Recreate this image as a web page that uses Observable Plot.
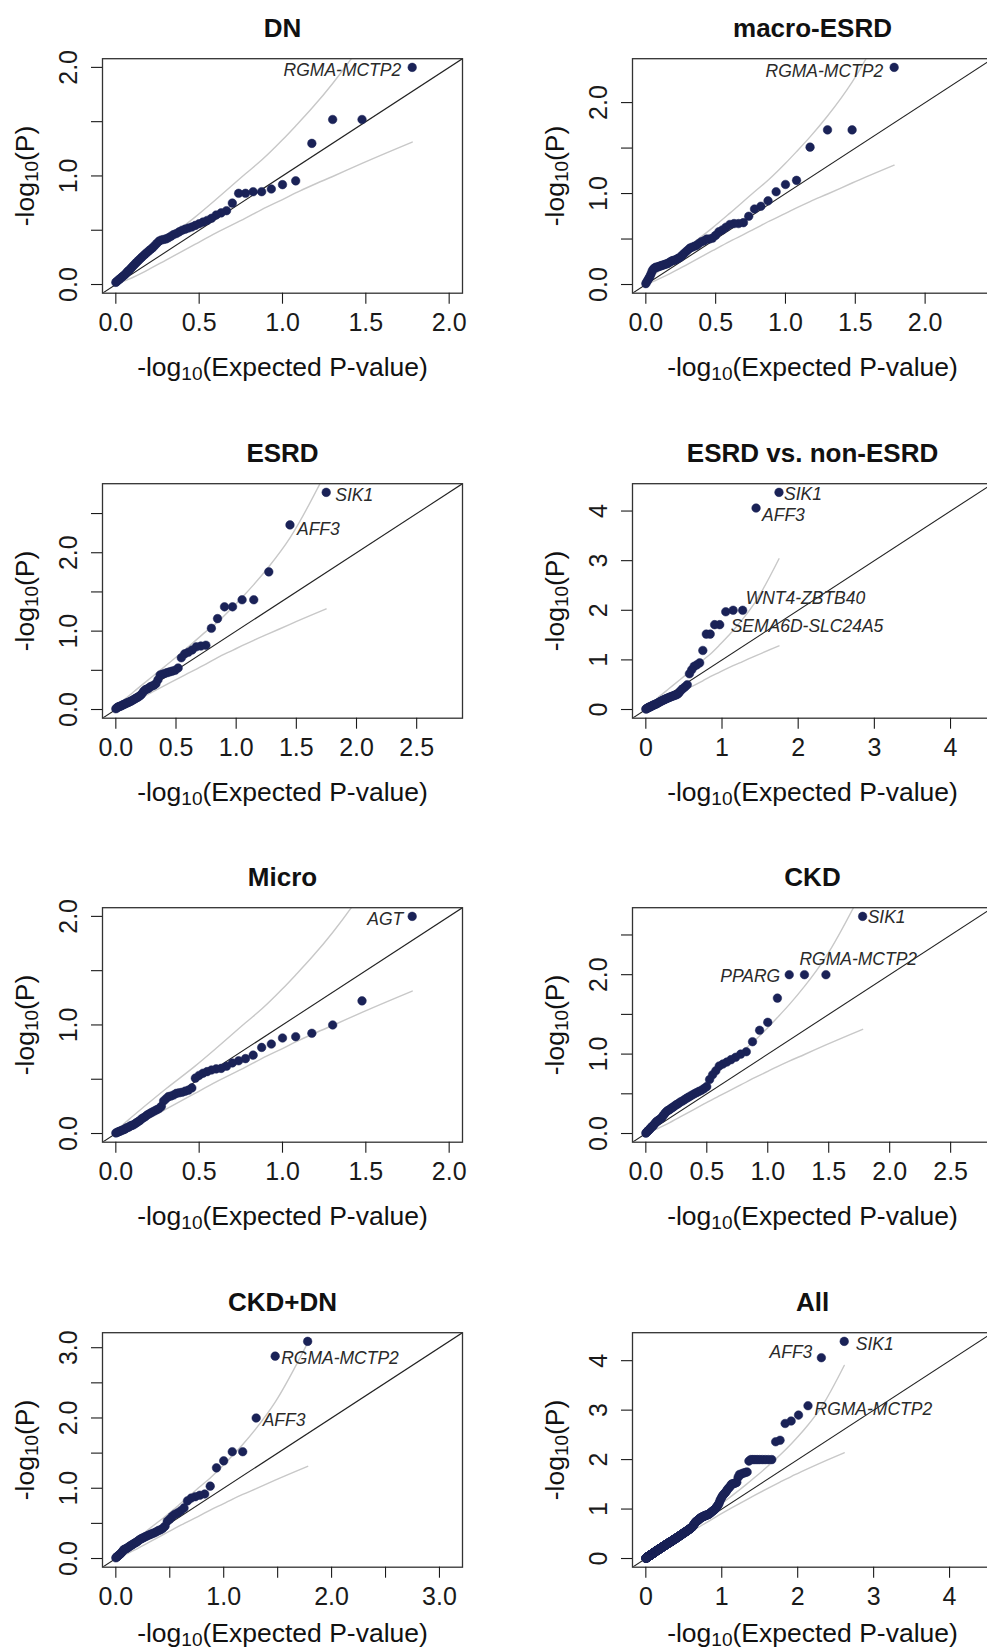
<!DOCTYPE html>
<html>
<head>
<meta charset="utf-8">
<script src="https://cdn.jsdelivr.net/npm/d3@7"></script>
<script src="https://cdn.jsdelivr.net/npm/@observablehq/plot@0.6"></script>
<style>
  html, body { margin: 0; padding: 0; background: #fff; }
  #grid { position: relative; width: 987px; height: 1652px; overflow: hidden; }
  .cell { position: absolute; width: 530px; height: 425px; }
  .cell svg { max-width: none !important; width: 530px; height: 425px; }
</style>
</head>
<body>
<div id="grid"></div>
<script>
// Observed -log10(P) per analysis, sorted from the strongest signal (rank 1) down.
const obsDN = [2.0, 1.52, 1.52, 1.30, 0.955, 0.92, 0.88, 0.855, 0.855, 0.84,
  0.84, 0.75, 0.68, 0.66, 0.64, 0.61, 0.59, 0.575, 0.56, 0.545,
  0.53, 0.52, 0.51, 0.50, 0.485, 0.47, 0.46, 0.445, 0.43, 0.42,
  0.415, 0.41, 0.40, 0.38, 0.36, 0.34, 0.325, 0.31, 0.295, 0.28,
  0.265, 0.25, 0.235, 0.22, 0.205, 0.19, 0.175, 0.16, 0.145, 0.13,
  0.12, 0.105, 0.09, 0.08, 0.07, 0.06, 0.05, 0.04, 0.03, 0.02];

const obsMacroESRD = [2.387, 1.70, 1.70, 1.51, 1.145, 1.10, 1.02, 0.92, 0.86, 0.83,
  0.75, 0.68, 0.67, 0.67, 0.66, 0.63, 0.60, 0.58, 0.54, 0.51,
  0.50, 0.50, 0.48, 0.47, 0.45, 0.43, 0.42, 0.41, 0.40, 0.38,
  0.36, 0.34, 0.32, 0.30, 0.29, 0.28, 0.27, 0.265, 0.26, 0.25,
  0.24, 0.23, 0.225, 0.22, 0.215, 0.21, 0.205, 0.20, 0.195, 0.19,
  0.19, 0.18, 0.17, 0.15, 0.12, 0.09, 0.07, 0.05, 0.03, 0.01];

const obsESRD = [2.77, 2.355, 1.756, 1.40, 1.40, 1.31, 1.31, 1.16, 1.036, 0.82,
  0.81, 0.80, 0.76, 0.73, 0.71, 0.66, 0.53, 0.50, 0.49, 0.48,
  0.47, 0.46, 0.45, 0.44, 0.38, 0.33, 0.31, 0.30, 0.29, 0.27,
  0.26, 0.25, 0.23, 0.20, 0.18, 0.165, 0.155, 0.145, 0.135, 0.125,
  0.115, 0.105, 0.10, 0.09, 0.085, 0.08, 0.07, 0.065, 0.06, 0.05,
  0.045, 0.04, 0.035, 0.03, 0.02, 0.01];

const obsESRDvsNon = [4.376, 4.06, 2.0, 2.0, 1.97, 1.71, 1.71, 1.52, 1.52, 1.19,
  0.94, 0.90, 0.87, 0.80, 0.72, 0.50, 0.46, 0.43, 0.40, 0.36,
  0.32, 0.30, 0.29, 0.28, 0.27, 0.26, 0.25, 0.24, 0.23, 0.22,
  0.21, 0.20, 0.19, 0.18, 0.17, 0.16, 0.15, 0.14, 0.13, 0.12,
  0.11, 0.105, 0.10, 0.09, 0.085, 0.08, 0.07, 0.06, 0.055, 0.05,
  0.045, 0.04, 0.03, 0.02, 0.015, 0.01];

const obsMicro = [2.0, 1.222, 1.0, 0.923, 0.892, 0.88, 0.824, 0.793, 0.722, 0.69,
  0.67, 0.65, 0.62, 0.60, 0.595, 0.585, 0.57, 0.555, 0.535, 0.51,
  0.42, 0.40, 0.39, 0.38, 0.375, 0.37, 0.355, 0.345, 0.34, 0.32,
  0.30, 0.25, 0.23, 0.22, 0.21, 0.20, 0.19, 0.18, 0.17, 0.155,
  0.145, 0.135, 0.12, 0.11, 0.10, 0.09, 0.08, 0.075, 0.07, 0.06,
  0.055, 0.05, 0.04, 0.035, 0.03, 0.025, 0.02, 0.015, 0.01, 0.005];

const obsCKD = [2.734, 2.0, 2.0, 2.0, 1.705, 1.40, 1.30, 1.156, 1.03, 1.0,
  0.96, 0.93, 0.90, 0.875, 0.85, 0.79, 0.74, 0.68, 0.59, 0.565,
  0.545, 0.53, 0.515, 0.50, 0.485, 0.47, 0.455, 0.44, 0.425, 0.41,
  0.40, 0.385, 0.37, 0.36, 0.345, 0.33, 0.32, 0.305, 0.295, 0.285,
  0.27, 0.25, 0.23, 0.21, 0.19, 0.18, 0.17, 0.16, 0.15, 0.135,
  0.12, 0.10, 0.09, 0.08, 0.065, 0.05, 0.04, 0.03, 0.015, 0.005];

const obsCKDDN = [3.09, 2.88, 2.0, 1.52, 1.52, 1.39, 1.29, 1.03, 0.918, 0.90,
  0.88, 0.86, 0.82, 0.72, 0.68, 0.65, 0.63, 0.60, 0.56, 0.53,
  0.46, 0.43, 0.41, 0.40, 0.385, 0.37, 0.36, 0.35, 0.34, 0.33,
  0.32, 0.31, 0.30, 0.29, 0.28, 0.27, 0.255, 0.24, 0.23, 0.22,
  0.21, 0.20, 0.19, 0.18, 0.17, 0.16, 0.15, 0.14, 0.135, 0.13,
  0.12, 0.10, 0.085, 0.07, 0.06, 0.05, 0.04, 0.03, 0.02, 0.01];

const obsAll = [4.39, 4.06, 3.09, 2.90, 2.78, 2.73, 2.39, 2.36, 2.0, 2.0,
  2.0, 2.0, 2.0, 2.0, 2.0, 2.0, 2.0, 1.97, 1.75, 1.74,
  1.73, 1.72, 1.70, 1.70, 1.64, 1.54, 1.53, 1.52, 1.51, 1.51,
  1.49, 1.45, 1.43, 1.41, 1.38, 1.35, 1.33, 1.31, 1.29, 1.27,
  1.24, 1.21, 1.18, 1.14, 1.10, 1.08, 1.06, 1.04, 1.02, 1.00,
  0.99, 0.98, 0.97, 0.96, 0.95, 0.94, 0.93, 0.92, 0.91, 0.90,
  0.895, 0.89, 0.885, 0.88, 0.88, 0.875, 0.87, 0.865, 0.86, 0.86,
  0.855, 0.85, 0.845, 0.84, 0.835, 0.83, 0.825, 0.82, 0.815, 0.81,
  0.80, 0.79, 0.78, 0.775, 0.77, 0.765, 0.76, 0.755, 0.75, 0.74,
  0.73, 0.72, 0.71, 0.70, 0.69, 0.68, 0.67, 0.66, 0.65, 0.64,
  0.635, 0.63, 0.625, 0.62, 0.615, 0.61, 0.605, 0.60, 0.595, 0.59,
  0.586, 0.582, 0.578, 0.574, 0.570, 0.566, 0.562, 0.558, 0.554, 0.55,
  0.546, 0.543, 0.539, 0.536, 0.532, 0.529, 0.525, 0.522, 0.518, 0.515,
  0.512, 0.508, 0.505, 0.501, 0.498, 0.494, 0.491, 0.487, 0.484, 0.48,
  0.477, 0.474, 0.471, 0.468, 0.465, 0.462, 0.459, 0.456, 0.453, 0.45,
  0.447, 0.444, 0.441, 0.438, 0.435, 0.432, 0.429, 0.426, 0.423, 0.42,
  0.417, 0.415, 0.412, 0.41, 0.407, 0.405, 0.402, 0.40, 0.397, 0.395,
  0.392, 0.39, 0.387, 0.385, 0.382, 0.38, 0.377, 0.375, 0.372, 0.37,
  0.367, 0.365, 0.362, 0.36, 0.357, 0.355, 0.352, 0.35, 0.347, 0.345,
  0.343, 0.341, 0.339, 0.337, 0.335, 0.333, 0.331, 0.329, 0.327, 0.325,
  0.323, 0.321, 0.319, 0.317, 0.315, 0.313, 0.311, 0.309, 0.307, 0.305,
  0.303, 0.301, 0.299, 0.297, 0.295, 0.293, 0.291, 0.289, 0.287, 0.285,
  0.283, 0.281, 0.279, 0.277, 0.275, 0.273, 0.271, 0.269, 0.267, 0.265,
  0.263, 0.261, 0.259, 0.257, 0.255, 0.253, 0.251, 0.249, 0.247, 0.245,
  0.243, 0.242, 0.240, 0.239, 0.237, 0.236, 0.234, 0.233, 0.231, 0.23,
  0.228, 0.226, 0.224, 0.222, 0.22, 0.218, 0.216, 0.214, 0.212, 0.21,
  0.208, 0.207, 0.205, 0.204, 0.202, 0.201, 0.199, 0.198, 0.196, 0.195,
  0.193, 0.192, 0.19, 0.189, 0.187, 0.186, 0.184, 0.183, 0.181, 0.18,
  0.178, 0.177, 0.175, 0.174, 0.172, 0.171, 0.169, 0.168, 0.166, 0.165,
  0.163, 0.162, 0.16, 0.159, 0.157, 0.156, 0.154, 0.153, 0.151, 0.15,
  0.148, 0.147, 0.145, 0.144, 0.142, 0.141, 0.139, 0.138, 0.136, 0.135,
  0.133, 0.132, 0.13, 0.129, 0.127, 0.126, 0.124, 0.123, 0.121, 0.12,
  0.118, 0.117, 0.115, 0.114, 0.112, 0.111, 0.109, 0.108, 0.106, 0.105,
  0.104, 0.102, 0.101, 0.099, 0.098, 0.096, 0.095, 0.093, 0.092, 0.09,
  0.089, 0.088, 0.087, 0.086, 0.085, 0.084, 0.083, 0.082, 0.081, 0.08,
  0.078, 0.077, 0.075, 0.074, 0.072, 0.071, 0.069, 0.068, 0.066, 0.065,
  0.064, 0.063, 0.062, 0.061, 0.06, 0.059, 0.058, 0.057, 0.056, 0.055,
  0.053, 0.052, 0.05, 0.049, 0.047, 0.046, 0.044, 0.043, 0.041, 0.04,
  0.039, 0.038, 0.037, 0.036, 0.035, 0.034, 0.033, 0.032, 0.031, 0.03,
  0.028, 0.027, 0.025, 0.024, 0.022, 0.021, 0.019, 0.018, 0.016, 0.015,
  0.014, 0.013, 0.012, 0.011, 0.01, 0.009, 0.008, 0.007, 0.006, 0.005];

// 90% pointwise envelopes of the null order statistics, tabulated at a few ranks.
const bandRanks60 = [1, 2, 3, 4, 5, 6, 8, 10, 15, 20, 30, 40, 50, 60];
const bandUpper60 = [3.068, 2.225, 1.852, 1.623, 1.461, 1.333, 1.146, 1.020, 0.785, 0.623, 0.412, 0.255, 0.130, 0.022];
const bandLower60 = [1.312, 1.116, 0.995, 0.912, 0.843, 0.782, 0.690, 0.611, 0.475, 0.372, 0.225, 0.122, 0.050, 0.0004];

const bandRanks56 = [1, 2, 3, 4, 5, 6, 8, 10, 15, 20, 28, 40, 50, 56];
const bandUpper56 = [3.038, 2.190, 1.821, 1.593, 1.430, 1.303, 1.115, 0.994, 0.759, 0.599, 0.417, 0.223, 0.097, 0.023];
const bandLower56 = [1.283, 1.087, 0.967, 0.883, 0.814, 0.755, 0.662, 0.578, 0.440, 0.340, 0.222, 0.100, 0.027, 0.0004];

const bandRanks410 = [1, 2, 3, 4, 5, 7, 10, 15, 20, 30, 50, 100, 200, 300, 380, 410];
const bandUpper410 = [3.903, 3.061, 2.699, 2.476, 2.316, 2.093, 1.875, 1.642, 1.484, 1.271, 1.012, 0.679, 0.350, 0.159, 0.045, 0.003];
const bandLower410 = [2.138, 1.940, 1.818, 1.728, 1.658, 1.546, 1.424, 1.281, 1.177, 1.027, 0.833, 0.556, 0.278, 0.116, 0.025, 0.0001];

// Axis ticks and the subset that carries a label.
const ticksHalfTo2 = [0, 0.5, 1, 1.5, 2];
const ticksHalfTo25 = [0, 0.5, 1, 1.5, 2, 2.5];
const ticksHalfTo3 = [0, 0.5, 1, 1.5, 2, 2.5, 3];
const ticksUnitTo4 = [0, 1, 2, 3, 4];
const labelsInteger = [0, 1, 2, 3, 4];

// Panel titles, axis titles and named hits.
const panelTitles = ["DN", "macro-ESRD", "ESRD", "ESRD vs. non-ESRD", "Micro", "CKD", "CKD+DN", "All"];
const xTitle = "-log\u2081\u2080(Expected P-value)";
const yTitle = "-log\u2081\u2080(P)";
const hitsDN = [{rank: 1, gene: "RGMA-MCTP2"}];
const hitsMacroESRD = [{rank: 1, gene: "RGMA-MCTP2"}];
const hitsESRD = [{rank: 1, gene: "SIK1"}, {rank: 2, gene: "AFF3"}];
const hitsESRDvsNon = [{rank: 1, gene: "SIK1"}, {rank: 2, gene: "AFF3"}, {rank: 3, gene: "WNT4-ZBTB40"}, {rank: 4, gene: "SEMA6D-SLC24A5"}];
const hitsMicro = [{rank: 1, gene: "AGT"}];
const hitsCKD = [{rank: 1, gene: "SIK1"}, {rank: 4, gene: "PPARG"}, {rank: 3, gene: "RGMA-MCTP2"}];
const hitsCKDDN = [{rank: 2, gene: "RGMA-MCTP2"}, {rank: 3, gene: "AFF3"}];
const hitsAll = [{rank: 1, gene: "SIK1"}, {rank: 2, gene: "AFF3"}, {rank: 3, gene: "RGMA-MCTP2"}];

// Placement of each hit label relative to its point (pixels).
const hitPlacement = {
  "DN": {"RGMA-MCTP2": {anchor: "end", dx: -11, dy: 3.5}},
  "macro-ESRD": {"RGMA-MCTP2": {anchor: "end", dx: -11, dy: 4.5}},
  "ESRD": {"SIK1": {anchor: "start", dx: 9, dy: 3}, "AFF3": {anchor: "start", dx: 7, dy: 4}},
  "ESRD vs. non-ESRD": {
    "SIK1": {anchor: "start", dx: 5, dy: 2.5}, "AFF3": {anchor: "start", dx: 6, dy: 7.5},
    "WNT4-ZBTB40": {anchor: "start", dx: 3, dy: -12}, "SEMA6D-SLC24A5": {anchor: "start", dx: -2.5, dy: 16.5}
  },
  "Micro": {"AGT": {anchor: "end", dx: -9, dy: 3}},
  "CKD": {"SIK1": {anchor: "start", dx: 5, dy: 1.5}, "PPARG": {anchor: "end", dx: -9, dy: 1.5}, "RGMA-MCTP2": {anchor: "start", dx: -5, dy: -15.5}},
  "CKD+DN": {"RGMA-MCTP2": {anchor: "start", dx: 6, dy: 2}, "AFF3": {anchor: "start", dx: 6.5, dy: 2}},
  "All": {"SIK1": {anchor: "start", dx: 11.5, dy: 3}, "AFF3": {anchor: "end", dx: -9, dy: -5.5}, "RGMA-MCTP2": {anchor: "start", dx: 6.5, dy: 3.5}}
};

const bands = {
  56: {ranks: bandRanks56, upper: bandUpper56, lower: bandLower56},
  60: {ranks: bandRanks60, upper: bandUpper60, lower: bandLower60},
  410: {ranks: bandRanks410, upper: bandUpper410, lower: bandLower410}
};

const panels = [
  {title: panelTitles[0], obs: obsDN, hits: hitsDN, xTicks: ticksHalfTo2, xLabeled: ticksHalfTo2, yTicks: ticksHalfTo2, yLabeled: labelsInteger, fmt: ".1f"},
  {title: panelTitles[1], obs: obsMacroESRD, hits: hitsMacroESRD, xTicks: ticksHalfTo2, xLabeled: ticksHalfTo2, yTicks: ticksHalfTo2, yLabeled: labelsInteger, fmt: ".1f"},
  {title: panelTitles[2], obs: obsESRD, hits: hitsESRD, xTicks: ticksHalfTo25, xLabeled: ticksHalfTo25, yTicks: ticksHalfTo25, yLabeled: labelsInteger, fmt: ".1f"},
  {title: panelTitles[3], obs: obsESRDvsNon, hits: hitsESRDvsNon, xTicks: ticksUnitTo4, xLabeled: ticksUnitTo4, yTicks: ticksUnitTo4, yLabeled: ticksUnitTo4, fmt: "d"},
  {title: panelTitles[4], obs: obsMicro, hits: hitsMicro, xTicks: ticksHalfTo2, xLabeled: ticksHalfTo2, yTicks: ticksHalfTo2, yLabeled: labelsInteger, fmt: ".1f"},
  {title: panelTitles[5], obs: obsCKD, hits: hitsCKD, xTicks: ticksHalfTo25, xLabeled: ticksHalfTo25, yTicks: ticksHalfTo25, yLabeled: labelsInteger, fmt: ".1f"},
  {title: panelTitles[6], obs: obsCKDDN, hits: hitsCKDDN, xTicks: ticksHalfTo3, xLabeled: labelsInteger, yTicks: ticksHalfTo3, yLabeled: labelsInteger, fmt: ".1f"},
  {title: panelTitles[7], obs: obsAll, hits: hitsAll, xTicks: ticksUnitTo4, xLabeled: ticksUnitTo4, yTicks: ticksUnitTo4, yLabeled: ticksUnitTo4, fmt: "d"}
];

// Layout of the 4 x 2 grid (the right column runs past the page edge).
const CELL_W = 530, CELL_H = 425, ROW_STEP = 424.5;
const BOX_LEFT = 102, BOX_W = 360, BOX_TOP = 58.2, BOX_H = 234.5;
const FONT = "'Liberation Sans', Arial, Helvetica, sans-serif";
const DOT = "#1a2257", BAND = "#c8c8c8", INK = "#1a1a1a";

function qqPanel(p, row) {
  const n = p.obs.length;
  const expected = r => -Math.log10(r / n);
  const pts = p.obs.map((v, i) => ({rank: i + 1, exp: expected(i + 1), obs: v}));
  const M = d3.max(p.obs);
  const dom = [-0.04 * M, 1.04 * M];
  const b = bands[n];
  const env = b.ranks.map((r, j) => ({exp: expected(r), up: b.upper[j], lo: b.lower[j]}))
    .sort((a, c) => a.exp - c.exp);
  const fmt = d3.format(p.fmt);
  const xLab = new Set(p.xLabeled), yLab = new Set(p.yLabeled);

  const hitMarks = p.hits.map(h => {
    const pl = hitPlacement[p.title][h.gene];
    return Plot.text([pts[h.rank - 1]], {
      x: "exp", y: "obs", text: () => h.gene,
      textAnchor: pl.anchor, dx: pl.dx, dy: pl.dy,
      fontStyle: "italic", fontSize: 17.5, fill: "#2a2a2a"
    });
  });

  return Plot.plot({
    width: CELL_W, height: CELL_H,
    marginLeft: BOX_LEFT, marginRight: CELL_W - BOX_LEFT - BOX_W,
    marginTop: BOX_TOP, marginBottom: CELL_H - BOX_TOP - BOX_H,
    x: {domain: dom},
    y: {domain: dom},
    style: {fontFamily: FONT, color: INK, background: "transparent", overflow: "visible", maxWidth: "none"},
    marks: [
      Plot.line(env, {x: "exp", y: "up", stroke: BAND, strokeWidth: 1.4, curve: "monotone-x", clip: true}),
      Plot.line(env, {x: "exp", y: "lo", stroke: BAND, strokeWidth: 1.4, curve: "monotone-x", clip: true}),
      Plot.link([dom], {x1: d => d[0], y1: d => d[0], x2: d => d[1], y2: d => d[1], stroke: "#222", strokeWidth: 1.1, clip: true}),
      Plot.dot(pts, {x: "exp", y: "obs", r: 4.3, fill: DOT, stroke: DOT, strokeWidth: 0.5}),
      ...hitMarks,
      Plot.frame({stroke: "#333", strokeWidth: 1.3}),
      Plot.axisX({ticks: p.xTicks, tickFormat: d => xLab.has(d) ? fmt(d) : "", tickSize: 11, tickPadding: 9,
        fontSize: 25, label: null, strokeWidth: 1.1}),
      Plot.axisY({ticks: p.yTicks, tickFormat: d => yLab.has(d) ? fmt(d) : "", tickSize: 11, tickPadding: 14.5,
        tickRotate: -90, fontSize: 25, label: null, strokeWidth: 1.1}),
      Plot.text([p.title], {text: d => d, frameAnchor: "top", lineAnchor: "middle", dy: -30,
        fontSize: 26, fontWeight: "bold", fill: "#111"}),
      Plot.text([xTitle], {text: d => d, frameAnchor: "bottom", lineAnchor: "middle", dy: row === 3 ? 66 : 74,
        fontSize: 26.5, fill: "#111"}),
      Plot.text([yTitle], {text: d => d, frameAnchor: "left", textAnchor: "middle", lineAnchor: "middle",
        dx: -77, rotate: -90, fontSize: 26.5, fill: "#111"})
    ]
  });
}

// Typeset the "10" of log10 as a lowered, smaller run inside the axis titles.
function lowerLogBase(svg) {
  const ns = "http://www.w3.org/2000/svg";
  svg.querySelectorAll("text").forEach(t => {
    const s = t.textContent;
    const m = s.match(/^(.*?log)\u2081\u2080(.*)$/);
    if (!m || t.querySelector("text")) return;
    const inner = t.querySelector("tspan");
    const host = inner || t;
    host.textContent = "";
    const a = document.createElementNS(ns, "tspan");
    a.textContent = m[1];
    const sub = document.createElementNS(ns, "tspan");
    sub.textContent = "10";
    sub.setAttribute("font-size", "19");
    sub.setAttribute("dy", "4");
    const c = document.createElementNS(ns, "tspan");
    c.textContent = m[2];
    c.setAttribute("dy", "-4");
    host.append(a, sub, c);
  });
}

const grid = document.getElementById("grid");
panels.forEach((p, i) => {
  const cell = document.createElement("div");
  cell.className = "cell";
  cell.style.left = (i % 2) * CELL_W + "px";
  cell.style.top = Math.floor(i / 2) * ROW_STEP + "px";
  const svg = qqPanel(p, Math.floor(i / 2));
  lowerLogBase(svg);
  cell.appendChild(svg);
  grid.appendChild(cell);
});
</script>
</body>
</html>
